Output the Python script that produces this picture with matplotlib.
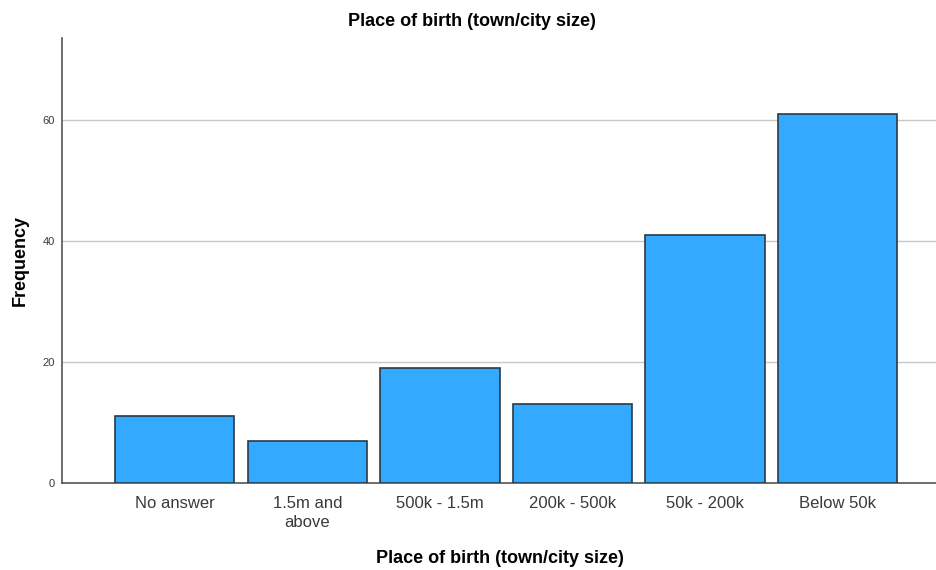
import matplotlib
matplotlib.use("Agg")
import matplotlib.pyplot as plt
import numpy as np

plt.rcParams['font.family'] = ['Liberation Sans', 'DejaVu Sans']

categories = ['No answer', '1.5m and\nabove', '500k - 1.5m', '200k - 500k', '50k - 200k', 'Below 50k']
frequency = [11, 7, 19, 13, 41, 61]
y_ticks = [0, 20, 40, 60]

fig = plt.figure(figsize=(9.37, 5.70), dpi=100)
ax = fig.add_axes([0.0662, 0.1526, 0.934, 0.7807])

x = np.arange(len(categories))
ax.bar(x, frequency, width=0.9, color='#33aaff', edgecolor='#2b3a48', linewidth=1.2, zorder=3)

ax.set_xlim(-0.85, 5.75)
ax.set_ylim(0, 73.5)
ax.set_yticks(y_ticks)
ax.set_xticks(x)
ax.set_xticklabels(categories, fontsize=12, color='#3a3a3a', linespacing=1.4)
ax.tick_params(axis='y', labelsize=8, colors='#3a3a3a', length=0, pad=5)
ax.tick_params(axis='x', length=0, pad=9)
ax.grid(axis='y', color='#c8c8c8', linewidth=1, zorder=0)

for s in ['top', 'right']:
    ax.spines[s].set_visible(False)
for s in ['left', 'bottom']:
    ax.spines[s].set_color('#555555')
    ax.spines[s].set_linewidth(1.2)

fig.text(472 / 937, 1 - 22 / 570, 'Place of birth (town/city size)', fontsize=13,
         fontweight='bold', ha='center', va='center')
ax.set_xlabel('Place of birth (town/city size)', fontsize=13, fontweight='bold', labelpad=14)
ax.set_ylabel('Frequency', fontsize=13, fontweight='bold', labelpad=10)

fig.savefig('out.png', dpi=100)
